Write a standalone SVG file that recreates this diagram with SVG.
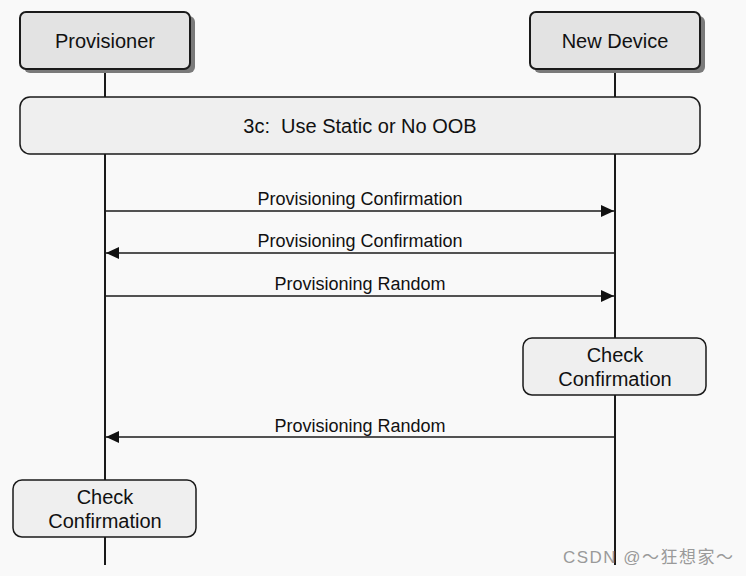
<svg xmlns="http://www.w3.org/2000/svg" width="746" height="576" viewBox="0 0 746 576">
<style>
.shadow{fill:#7a7a7a}
.actor{fill:#e3e3e3;stroke:#1a1a1a;stroke-width:2}
.box{fill:#efefef;stroke:#1a1a1a;stroke-width:1.5}
.life{stroke:#1a1a1a;stroke-width:2;fill:none}
.msg{stroke:#1a1a1a;stroke-width:1.5;fill:none}
.t20{font-family:"Liberation Sans",Arial,sans-serif;font-size:20px;fill:#111;text-anchor:middle}
.t18{font-family:"Liberation Sans",Arial,sans-serif;font-size:18px;fill:#111;text-anchor:middle}
.wm{font-family:"Liberation Sans","Noto Sans CJK SC",sans-serif;font-size:17px;fill:#9a9a9a}
</style>
<defs>
<marker id="ah" markerWidth="14" markerHeight="12" refX="13" refY="6" orient="auto" markerUnits="userSpaceOnUse">
<path d="M0,0 L13,6 L0,12 Z" fill="#111"/>
</marker>
</defs>
<rect width="746" height="576" fill="#f9f9f9"/>
<g id="lifelines">
<line class="life" x1="105" y1="69" x2="105" y2="565"/>
<line class="life" x1="615" y1="69" x2="615" y2="565"/>
</g>
<g id="provisioner">
<rect class="shadow" x="24" y="16" width="171" height="57" rx="6"/>
<rect class="actor" x="20" y="12" width="170" height="57" rx="6"/>
<text class="t20" x="105" y="48">Provisioner</text>
</g>
<g id="new-device">
<rect class="shadow" x="534" y="16" width="171" height="57" rx="6"/>
<rect class="actor" x="530" y="12" width="170" height="57" rx="6"/>
<text class="t20" x="615" y="48">New Device</text>
</g>
<g id="step-3c">
<rect class="box" x="20" y="97" width="680" height="57" rx="10"/>
<text class="t20" x="360" y="133" xml:space="preserve">3c:  Use Static or No OOB</text>
</g>
<g id="connectors">
<line class="msg" x1="105" y1="211" x2="614" y2="211" marker-end="url(#ah)"/>
<text class="t18" x="360" y="205">Provisioning Confirmation</text>
<line class="msg" x1="615" y1="253" x2="106" y2="253" marker-end="url(#ah)"/>
<text class="t18" x="360" y="247">Provisioning Confirmation</text>
<line class="msg" x1="105" y1="296" x2="614" y2="296" marker-end="url(#ah)"/>
<text class="t18" x="360" y="290">Provisioning Random</text>
<line class="msg" x1="615" y1="437" x2="106" y2="437" marker-end="url(#ah)"/>
<text class="t18" x="360" y="432">Provisioning Random</text>
</g>
<g id="check-device">
<rect class="box" x="523" y="338" width="183" height="57" rx="9"/>
<text class="t20" x="615" y="362">Check</text>
<text class="t20" x="615" y="386">Confirmation</text>
</g>
<g id="check-provisioner">
<rect class="box" x="13" y="480" width="183" height="57" rx="9"/>
<text class="t20" x="105" y="504">Check</text>
<text class="t20" x="105" y="528">Confirmation</text>
</g>
<text class="wm" x="563" y="563" textLength="170" lengthAdjust="spacing">CSDN @～狂想家～</text>
</svg>
